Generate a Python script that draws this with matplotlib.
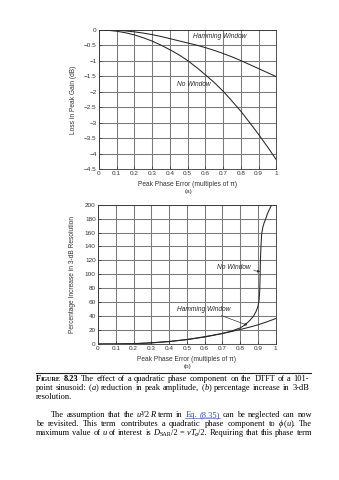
import matplotlib.pyplot as plt
from matplotlib.transforms import IdentityTransform
from matplotlib.lines import Line2D

W, H = 339, 480
plt.rcParams['font.family'] = ['Liberation Sans', 'DejaVu Sans']
SERIF = ['Liberation Serif', 'DejaVu Serif']

# ---- (a) loss in peak gain ----
err_a = [0, 0.05, 0.1, 0.15, 0.2, 0.25, 0.3, 0.35, 0.4, 0.45, 0.5,
         0.55, 0.6, 0.65, 0.7, 0.75, 0.8, 0.85, 0.9, 0.95, 1.0]
loss_none = [0, -0.01, -0.04, -0.09, -0.16, -0.25, -0.36, -0.49, -0.64, -0.8, -0.99,
             -1.21, -1.45, -1.7, -1.98, -2.3, -2.63, -3.0, -3.38, -3.78, -4.2]
loss_ham = [0, 0, -0.01, -0.03, -0.06, -0.1, -0.15, -0.21, -0.28, -0.35, -0.42,
            -0.49, -0.57, -0.66, -0.76, -0.87, -0.99, -1.12, -1.25, -1.38, -1.51]

# ---- (b) increase in 3-dB resolution ----
err_b_none = [0, 0.1, 0.2, 0.3, 0.4, 0.5, 0.6, 0.7, 0.75, 0.8, 0.83, 0.855, 0.875,
              0.89, 0.9, 0.906, 0.91, 0.912, 0.914, 0.917, 0.921, 0.928, 0.935,
              0.943, 0.952, 0.962, 0.972, 0.982]
res_none = [0, 0.05, 0.4, 1.5, 3.5, 6.5, 10, 15, 18.5, 23, 28, 34, 40,
            47, 54, 62, 75, 95, 120, 140, 158, 168, 174,
            179, 186, 192, 197, 202]
err_b_ham = [0, 0.1, 0.2, 0.3, 0.4, 0.5, 0.6, 0.65, 0.7, 0.75, 0.8, 0.85, 0.9, 0.95, 1.0]
res_ham = [0, 0.1, 0.5, 1.8, 3.6, 6.2, 10.5, 12.8, 15.2, 17.8, 20.8, 24, 27.5, 31.8, 36.5]

xticks = [0, 0.1, 0.2, 0.3, 0.4, 0.5, 0.6, 0.7, 0.8, 0.9, 1.0]
xticklabels = ['0', '0.1', '0.2', '0.3', '0.4', '0.5', '0.6', '0.7', '0.8', '0.9', '1']
yticks_a = [0, -0.5, -1, -1.5, -2, -2.5, -3, -3.5, -4, -4.5]
yticklabels_a = ['0', '\u22120.5', '\u22121', '\u22121.5', '\u22122', '\u22122.5',
                 '\u22123', '\u22123.5', '\u22124', '\u22124.5']
yticks_b = [0, 20, 40, 60, 80, 100, 120, 140, 160, 180, 200]

fig = plt.figure(figsize=(W / 100, H / 100), dpi=100)


def px_axes(l, t, r, b):
    return fig.add_axes([l / W, 1 - b / H, (r - l) / W, (b - t) / H])


def style(ax):
    ax.set_xlim(0, 1)
    ax.set_xticks(xticks)
    ax.set_xticklabels(xticklabels)
    ax.grid(True, color='#7a7a7a', lw=0.75)
    ax.tick_params(direction='in', length=2, width=0.5, labelsize=4.6,
                   pad=1.6, colors='#333333')
    for s in ax.spines.values():
        s.set_linewidth(0.6)
        s.set_color('#333333')


line_kw = dict(color='#262626', lw=0.75)
ann_kw = dict(fontsize=4.8, style='italic', color='#262626')

ax1 = px_axes(99, 30, 276.3, 169)
style(ax1)
ax1.plot(err_a, loss_ham, **line_kw)
ax1.plot(err_a, loss_none, **line_kw)
ax1.set_ylim(-4.5, 0)
ax1.set_yticks(yticks_a)
ax1.set_yticklabels(yticklabels_a)
ax1.set_ylabel('Loss in Peak Gain (dB)', fontsize=4.8, color='#333333')
ax1.set_xlabel('Peak Phase Error (multiples of \u03c0)', fontsize=4.8, color='#333333')
ax1.yaxis.set_label_coords(-0.124, 0.5)
ax1.xaxis.set_label_coords(0.5, -0.083)
ax1.text(0.532, -0.22, 'Hamming Window', va='center', **ann_kw)
ax1.text(0.438, -1.76, 'No Window', va='center', **ann_kw)

ax2 = px_axes(98, 204.7, 275.7, 344)
style(ax2)
ax2.plot(err_b_ham, res_ham, **line_kw)
ax2.plot(err_b_none, res_none, **line_kw)
ax2.set_ylim(0, 200)
ax2.set_yticks(yticks_b)
ax2.set_ylabel('Percentage Increase in 3-dB Resolution', fontsize=4.8, color='#333333')
ax2.set_xlabel('Peak Phase Error (multiples of \u03c0)', fontsize=4.8, color='#333333')
ax2.yaxis.set_label_coords(-0.124, 0.5)
ax2.xaxis.set_label_coords(0.5, -0.083)
arrow = dict(arrowstyle='-|>', lw=0.45, color='#262626', mutation_scale=3.5,
             shrinkA=0.5, shrinkB=0)
ax2.annotate('No Window', xy=(0.912, 104), xytext=(0.668, 109.5), va='center',
             arrowprops=arrow, **ann_kw)
ax2.annotate('Hamming Window', xy=(0.84, 27), xytext=(0.446, 50.2), va='center',
             arrowprops=arrow, **ann_kw)

fig.text(188 / W, 1 - 192 / H, '(a)', ha='center', va='center', fontsize=4.6,
         color='#333333')
fig.text(187 / W, 1 - 366.5 / H, '(b)', ha='center', va='center', fontsize=4.6,
         color='#333333')

# ---- caption and body text, set word by word and justified ----
renderer = fig.canvas.get_renderer()
ident = IdentityTransform()


def make_seg(s, st, size):
    return fig.text(0, 0, s, transform=ident, ha='left', va='baseline',
                    family=SERIF, fontsize=size * (0.74 if 's' in st else 1),
                    style='italic' if 'i' in st else 'normal',
                    weight='bold' if 'b' in st else 'normal',
                    color='#2e45b0' if 'l' in st else '#000000')


def width(t):
    return t.get_window_extent(renderer=renderer).width


def space_width(size):
    a = make_seg('x x', '', size)
    b = make_seg('xx', '', size)
    sp = width(a) - width(b)
    a.remove()
    b.remove()
    return sp


def natural_width(words, size):
    total = 0
    for word in words:
        for s, st in word:
            t = make_seg(s, st, size)
            total += width(t)
            t.remove()
    return total + space_width(size) * (len(words) - 1)


def fit_size(words, x0, x1, guess=6.0):
    # font size at which the line sets with normal word spacing
    return guess * (x1 - x0) / natural_width(words, guess)


def put_line(words, x0, x1, y, size, justify=True):
    built = []
    for word in words:
        segs = [(make_seg(s, st, size), st) for s, st in word]
        built.append((segs, sum(width(t) for t, _ in segs)))
    total = sum(w for _, w in built)
    gap = (x1 - x0 - total) / (len(built) - 1) if justify else space_width(size)
    x = x0
    link = []
    for segs, w in built:
        for t, st in segs:
            dy = -1.3 if 'd' in st else 0
            t.set_position((x, H - y + dy))
            if 'l' in st:
                link.append((x, x + width(t)))
            x += width(t)
        x += gap
    if link:
        fig.add_artist(Line2D([link[0][0], link[-1][1]], [H - y - 1.0] * 2,
                              transform=ident, color='#2e45b0', lw=0.4))


def words_of(text):
    return [[(w, '')] for w in text.split()]


fig.add_artist(Line2D([36, 311], [H - 373, H - 373], transform=ident,
                      color='#222222', lw=0.8))

cap1 = ([[('F', 'b'), ('IGURE', 'bs')], [('8.23', 'b')]] +
        words_of('The effect of a quadratic phase component on the DTFT of a 101-'))
cap2 = (words_of('point sinusoid:') + [[('(', ''), ('a', 'i'), (')', '')]] +
        words_of('reduction in peak amplitude,') + [[('(', ''), ('b', 'i'), (')', '')]] +
        words_of('percentage increase in 3-dB'))
cap3 = words_of('resolution.')
cap_size = min(fit_size(cap1, 36, 304), fit_size(cap2, 36, 309))
put_line(cap1, 36, 309, 380.6, cap_size)
put_line(cap2, 36, 309, 390.2, cap_size)
put_line(cap3, 36, 309, 399.4, cap_size, justify=False)

body1 = (words_of('The assumption that the') + [[('u', 'i'), ('\u00b2/2', ''), ('R', 'i')]] +
         words_of('term in') + [[('Eq.', 'l')], [('(8.35)', 'l')]] +
         words_of('can be neglected can now'))
body2 = (words_of('be revisited. This term contributes a quadratic phase component to') +
         [[('\u03d5', 'i'), ('(', ''), ('u', 'i'), (').', '')]] + words_of('The'))
body3 = (words_of('maximum value of') + [[('u', 'i')]] + words_of('of interest is') +
         [[('D', 'i'), ('SAR', 'sd'), ('/2', '')], [('=', '')],
          [('v', 'i'), ('T', 'i'), ('a', 'isd'), ('/2.', '')]] +
         words_of('Requiring that this phase term'))
body_size = min(fit_size(body1, 51, 312), fit_size(body2, 36, 312),
                fit_size(body3, 36, 312))
put_line(body1, 51, 312, 416.8, body_size)
put_line(body2, 36, 312, 426.0, body_size)
put_line(body3, 36, 312, 434.6, body_size)

fig.savefig('out.png', dpi=100, facecolor='white')
